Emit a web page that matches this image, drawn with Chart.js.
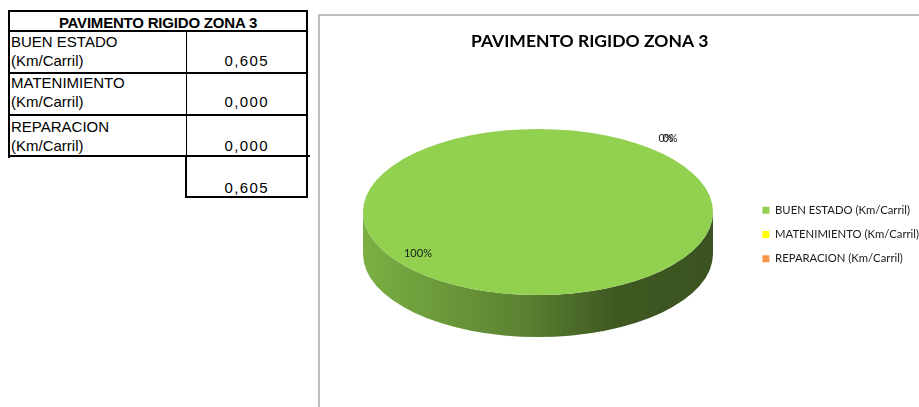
<!DOCTYPE html>
<html><head><meta charset="utf-8">
<script src="https://cdn.jsdelivr.net/npm/chart.js@4/dist/chart.umd.min.js"></script>
<style>
body{margin:0;background:#fff;}
#wrap{position:relative;width:919px;height:407px;overflow:hidden;background:#fff;}
.l{position:absolute;background:#000;}
.t{position:absolute;font-family:"Liberation Sans",Arial,sans-serif;font-size:15px;line-height:16px;color:#000;white-space:nowrap;}
.v{text-align:right;letter-spacing:1.4px;}
.g{position:absolute;background:#bfbfbf;}
#cv{position:absolute;left:320px;top:16px;}
</style></head>
<body><div id="wrap">
<div class="g" style="left:318px;top:14px;width:2px;height:393px"></div>
<div class="g" style="left:318px;top:14px;width:601px;height:2px"></div>
<div id="tbl"></div>
<canvas id="cv" width="609" height="391"></canvas>
</div>
<script>
// ---- data ----
const chartTitle = "PAVIMENTO RIGIDO ZONA 3";
const categories = ["BUEN ESTADO (Km/Carril)", "MATENIMIENTO (Km/Carril)", "REPARACION (Km/Carril)"];
const values = [0.605, 0.000, 0.000];
const colors = ["#92D050", "#FFFF00", "#F79646"];

// ---- table ----
const tbl = document.getElementById('tbl');
function line(x,y,w,h){const d=document.createElement('div');d.className='l';d.style.cssText=`left:${x}px;top:${y}px;width:${w}px;height:${h}px`;tbl.appendChild(d);}
function text(s,x,y,opts){const d=document.createElement('div');d.className='t'+(opts&&opts.right?' v':'');d.textContent=s;
  if(opts&&opts.right){d.style.cssText=`right:${919-x}px;top:${y}px`;} else if(opts&&opts.center){d.style.cssText=`left:${x}px;top:${y}px;width:${opts.w}px;text-align:center;font-weight:bold;letter-spacing:-0.2px`;} else {d.style.cssText=`left:${x}px;top:${y}px`;}
  tbl.appendChild(d);}
const fmt = v => v.toFixed(3).replace('.', ',');
line(8,10,300,2); line(8,10,2,148); line(306,10,2,188);
line(8,30,300,2); line(8,72,300,2); line(8,114,300,2); line(8,155,302,2);
line(186,31,1,125); line(185,156,2,42); line(185,196,123,2);
text(chartTitle,8,15,{center:true,w:300});
const rowTops=[34,75,119];
categories.forEach((c,i)=>{
  const k=c.indexOf(' (');
  text(c.slice(0,k),11,rowTops[i]);
  text(c.slice(k+1),11,rowTops[i]+19);
  text(fmt(values[i]),269,rowTops[i]+19,{right:true});
});
text(fmt(values.reduce((a,b)=>a+b,0)),269,180,{right:true});

// ---- 3D pie projection plugin ----
const VIEW = {cx:218, cy:196, rx:175, ry:83, depth:42};
function shade(hex,f){const n=parseInt(hex.slice(1),16);const r=(n>>16)&255,g=(n>>8)&255,b=n&255;return `rgb(${Math.round(r*f)},${Math.round(g*f)},${Math.round(b*f)})`;}
const pie3d = {
  id:'pie3d',
  beforeDatasetsDraw(chart){
    const meta = chart.getDatasetMeta(0);
    const ctx = chart.ctx;
    const first = meta.data[0];
    const R = first.outerRadius, ox = first.x, oy = first.y;
    ctx.save();
    const {cx,cy,rx,ry,depth} = VIEW;
    meta.data.forEach((arc,i)=>{
      const s = arc.startAngle, e = arc.endAngle;
      if (e - s <= 1e-6) return;
      const grad = ctx.createLinearGradient(cx-rx,0,cx+rx,0);
      const col = colors[i];
      grad.addColorStop(0, shade(col,0.84));
      grad.addColorStop(0.45, shade(col,0.63));
      grad.addColorStop(0.72, shade(col,0.43));
      grad.addColorStop(1, shade(col,0.40));
      for (let k=-2;k<=2;k++){
        const lo = Math.max(s, 2*Math.PI*k), hi = Math.min(e, 2*Math.PI*k+Math.PI);
        if (hi>lo){
          ctx.beginPath();
          ctx.ellipse(cx,cy,rx,ry,0,lo,hi,false);
          ctx.ellipse(cx,cy+depth,rx,ry,0,hi,lo,true);
          ctx.closePath();
          ctx.fillStyle = grad;
          ctx.fill();
        }
      }
    });
    ctx.translate(cx,cy);
    ctx.scale(rx/R, ry/R);
    ctx.translate(-ox,-oy);
  },
  afterDatasetsDraw(chart){
    const ctx = chart.ctx;
    ctx.restore();
    const meta = chart.getDatasetMeta(0);
    const total = values.reduce((a,b)=>a+b,0);
    const {cx,cy,rx,ry} = VIEW;
    ctx.save();
    ctx.font = '11px Lato';
    ctx.fillStyle = '#1a1a1a';
    ctx.textAlign = 'center';
    ctx.textBaseline = 'middle';
    let prev = null;
    meta.data.forEach((arc,i)=>{
      const frac = values[i]/total;
      const mid = (arc.startAngle+arc.endAngle)/2;
      let x, y;
      if (frac > 0.5){
        x = cx + rx*0.97*Math.cos(mid); y = cy + ry*0.7*Math.sin(mid);
      } else {
        x = cx + (rx+6)*Math.cos(mid); y = cy + (ry+6)*Math.sin(mid) - 11;
      }
      if (prev && Math.abs(prev.x-x)<3 && Math.abs(prev.y-y)<3){ x = prev.x + 4; }
      ctx.fillText(Math.round(frac*100)+'%', x, y);
      prev = {x,y};
    });
    ctx.restore();
  }
};

new Chart(document.getElementById('cv'), {
  type:'pie',
  data:{labels:categories, datasets:[{data:values, backgroundColor:colors, borderWidth:0, clip:false}]},
  options:{
    responsive:false, animation:false, devicePixelRatio:1,
    rotation:45,
    layout:{padding:{left:110,right:0,top:0,bottom:0}},
    plugins:{
      title:{display:true, text:chartTitle, fullSize:false, color:'#000',
        font:{family:'Lato', size:17.5, weight:'bold'}, padding:{top:15,bottom:10}},
      legend:{position:'right', fullSize:false,
        labels:{boxWidth:7, boxHeight:7, padding:13, color:'#1a1a1a', font:{family:'Lato', size:11.3}}},
      tooltip:{enabled:false}
    }
  },
  plugins:[pie3d]
});
</script>
</body></html>
